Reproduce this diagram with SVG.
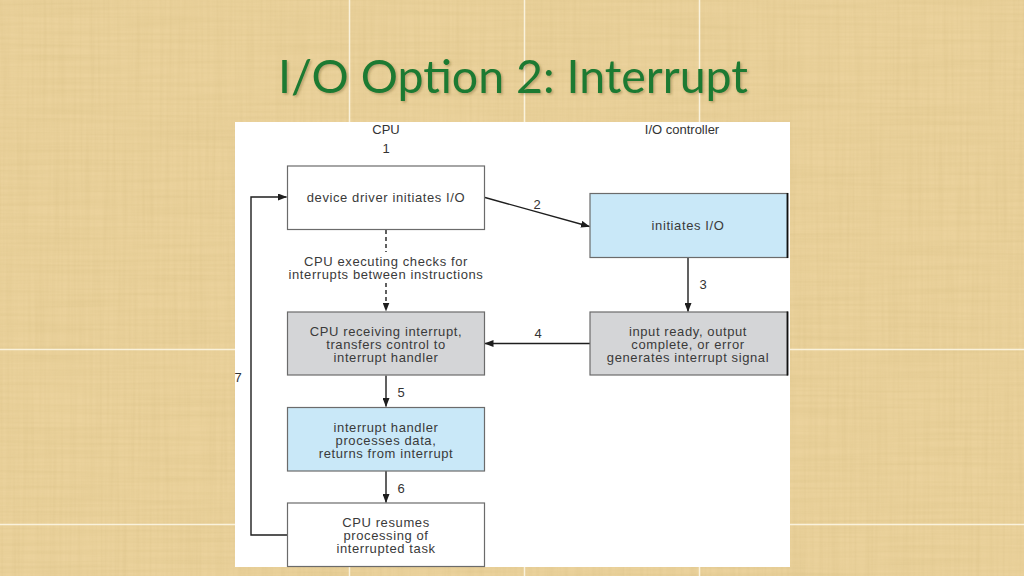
<svg xmlns="http://www.w3.org/2000/svg" width="1024" height="576" viewBox="0 0 1024 576">
  <defs>
    <style>
      .lbl { font-family: "Liberation Sans", Arial, sans-serif; font-size: 13px; fill: #333; text-anchor: middle; }
      .bt { font-family: "Liberation Sans", Arial, sans-serif; font-size: 13px; letter-spacing: 0.6px; fill: #3a3a3a; text-anchor: middle; }
      .box { stroke: #6b6b6b; stroke-width: 1.2; }
      .white { fill: #ffffff; }
      .blue { fill: #c9e8f8; }
      .gray { fill: #d4d5d7; }
      .conn { fill: none; stroke: #1e1e1e; stroke-width: 1.4; }
      .dash { stroke-dasharray: 4 3; }
      .grid { stroke: #faf2dc; stroke-width: 1.5; }
      .title { font-family: Lato, "Open Sans", sans-serif; font-size: 46px; fill: #1d7a33; }
    </style>
    <marker id="ah" markerWidth="9" markerHeight="7" refX="8.5" refY="3.5" orient="auto" markerUnits="userSpaceOnUse">
      <path d="M0,0 L9,3.5 L0,7 z" fill="#1e1e1e"/>
    </marker>
    <filter id="tex" x="0" y="0" width="100%" height="100%">
      <feTurbulence type="fractalNoise" baseFrequency="0.008 0.3" numOctaves="2" seed="3" result="n1"/>
      <feColorMatrix in="n1" type="matrix" values="0 0 0 0 0.55  0 0 0 0 0.42  0 0 0 0 0.15  0 0 0 0.6 -0.2" result="c1"/>
      <feTurbulence type="fractalNoise" baseFrequency="0.3 0.008" numOctaves="2" seed="7" result="n2"/>
      <feColorMatrix in="n2" type="matrix" values="0 0 0 0 0.6  0 0 0 0 0.45  0 0 0 0 0.18  0 0 0 0.6 -0.2" result="c2"/>
      <feMerge><feMergeNode in="c1"/><feMergeNode in="c2"/></feMerge>
    </filter>
    <filter id="sh" x="-5%" y="-20%" width="110%" height="140%">
      <feDropShadow dx="1.5" dy="1.5" stdDeviation="1" flood-color="#5a4a20" flood-opacity="0.35"/>
    </filter>
  </defs>

  <!-- background -->
  <rect x="0" y="0" width="1024" height="576" fill="#ebd29c"/>
  <rect x="0" y="0" width="1024" height="576" fill="#000" filter="url(#tex)" opacity="0.5"/>
  <g id="bg-grid">
    <line class="grid" x1="349.5" y1="0" x2="349.5" y2="576"/>
    <line class="grid" x1="524.5" y1="0" x2="524.5" y2="576"/>
    <line class="grid" x1="699.5" y1="0" x2="699.5" y2="576"/>
    <line class="grid" x1="0" y1="349.5" x2="1024" y2="349.5"/>
    <line class="grid" x1="0" y1="524.5" x2="1024" y2="524.5"/>
  </g>

  <text id="title" class="title" x="278" y="93" textLength="470" lengthAdjust="spacingAndGlyphs" filter="url(#sh)">I/O Option 2: Interrupt</text>

  <!-- diagram panel -->
  <rect x="235" y="122" width="555" height="445" fill="#ffffff"/>

  <text class="lbl" x="386" y="134">CPU</text>
  <text class="lbl" x="682" y="134">I/O controller</text>
  <text class="lbl" x="386" y="153">1</text>

  <g id="connectors">
    <line class="conn dash" x1="386" y1="230" x2="386" y2="252"/>
    <text class="bt" x="386" y="265.5">CPU executing checks for</text>
    <text class="bt" x="386" y="278.5">interrupts between instructions</text>
    <line class="conn dash" x1="386" y1="283" x2="386" y2="311" marker-end="url(#ah)"/>
    <line class="conn" x1="485" y1="197.5" x2="589.5" y2="226.5" marker-end="url(#ah)"/>
    <text class="lbl" x="537" y="209">2</text>
    <line class="conn" x1="688" y1="258" x2="688" y2="311.5" marker-end="url(#ah)"/>
    <text class="lbl" x="703" y="289">3</text>
    <line class="conn" x1="590" y1="343.5" x2="485" y2="343.5" marker-end="url(#ah)"/>
    <text class="lbl" x="538" y="338">4</text>
    <line class="conn" x1="386" y1="375.5" x2="386" y2="406.5" marker-end="url(#ah)"/>
    <text class="lbl" x="401" y="397">5</text>
    <line class="conn" x1="386" y1="471" x2="386" y2="502.5" marker-end="url(#ah)"/>
    <text class="lbl" x="401" y="493">6</text>
    <path class="conn" d="M287,535 H251 V197 H286.5" marker-end="url(#ah)"/>
    <text class="lbl" x="238" y="382">7</text>
  </g>

  <g id="node-driver">
    <rect class="box white" x="287.5" y="166" width="197" height="63.5"/>
    <text class="bt" x="386" y="202">device driver initiates I/O</text>
  </g>

  <g id="node-initiates">
    <rect class="box blue" x="590" y="193.5" width="197.5" height="64"/>
    <line x1="787.5" y1="193" x2="787.5" y2="258" stroke="#111" stroke-width="1.8"/>
    <text class="bt" x="688" y="230">initiates I/O</text>
  </g>

  <g id="node-ready">
    <rect class="box gray" x="590" y="312" width="197.5" height="63"/>
    <line x1="787.5" y1="311.5" x2="787.5" y2="375.5" stroke="#111" stroke-width="1.8"/>
    <text class="bt" x="688" y="335.5">input ready, output</text>
    <text class="bt" x="688" y="348.5">complete, or error</text>
    <text class="bt" x="688" y="361.5">generates interrupt signal</text>
  </g>

  <g id="node-receive">
    <rect class="box gray" x="287.5" y="312" width="197" height="63"/>
    <text class="bt" x="386" y="335.5">CPU receiving interrupt,</text>
    <text class="bt" x="386" y="348.5">transfers control to</text>
    <text class="bt" x="386" y="361.5">interrupt handler</text>
  </g>

  <g id="node-handler">
    <rect class="box blue" x="287.5" y="407.5" width="197" height="63.5"/>
    <text class="bt" x="386" y="431.5">interrupt handler</text>
    <text class="bt" x="386" y="444.5">processes data,</text>
    <text class="bt" x="386" y="457.5">returns from interrupt</text>
  </g>

  <g id="node-resume">
    <rect class="box white" x="287.5" y="503" width="197" height="63.5"/>
    <text class="bt" x="386" y="527">CPU resumes</text>
    <text class="bt" x="386" y="540">processing of</text>
    <text class="bt" x="386" y="553">interrupted task</text>
  </g>
</svg>
